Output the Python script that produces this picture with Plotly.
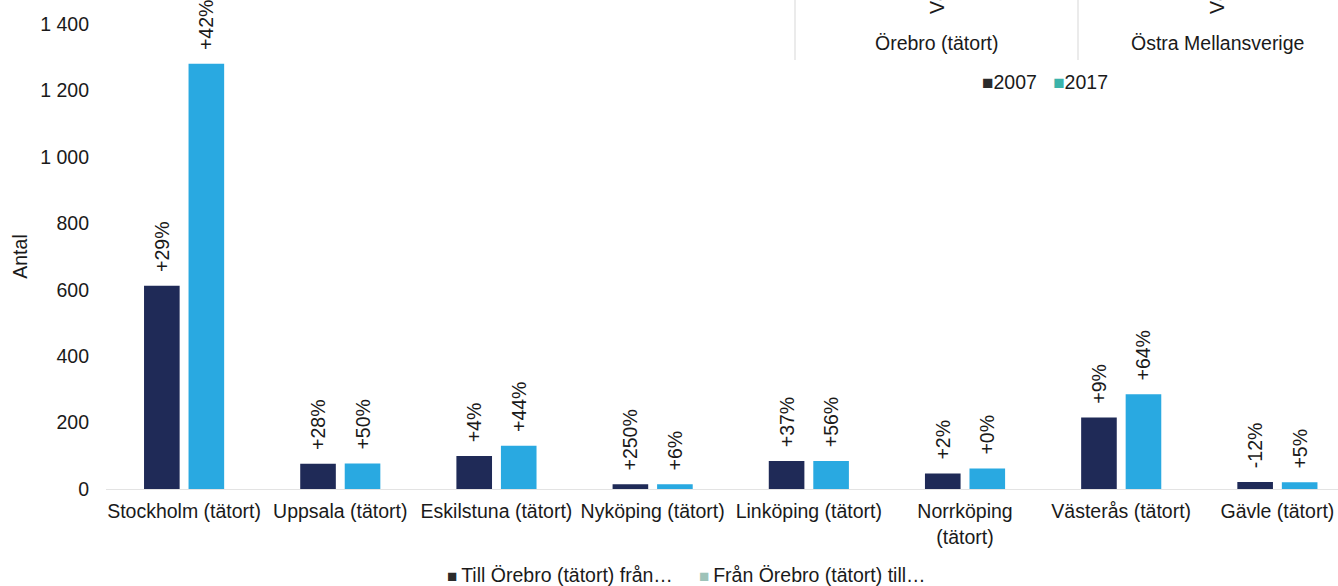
import plotly.graph_objects as go

categories = ["Stockholm (tätort)", "Uppsala (tätort)", "Eskilstuna (tätort)", "Nyköping (tätort)",
              "Linköping (tätort)", "Norrköping (tätort)", "Västerås (tätort)", "Gävle (tätort)"]
tick_labels = ["Stockholm (tätort)", "Uppsala (tätort)", "Eskilstuna (tätort)", "Nyköping (tätort)",
               "Linköping (tätort)", "Norrköping<br>(tätort)", "Västerås (tätort)", "Gävle (tätort)"]
till_values = [612, 76, 99, 14, 84, 47, 215, 21]
fran_values = [1280, 77, 130, 14, 84, 62, 285, 20]
till_pct = ["+29%", "+28%", "+4%", "+250%", "+37%", "+2%", "+9%", "-12%"]
fran_pct = ["+42%", "+50%", "+44%", "+6%", "+56%", "+0%", "+64%", "+5%"]
y_ticks = [0, 200, 400, 600, 800, 1000, 1200, 1400]
series_names = ["Till Örebro (tätort) från…", "Från Örebro (tätort) till…"]

NAVY = "#1F2A57"
BLUE = "#29A9E1"
FONT = "Liberation Sans, Arial, sans-serif"
FS = 19.5
TXT = "#1a1a1a"

fig = go.Figure()
pad = "\u00a0\u00a0"
fig.add_trace(go.Bar(
    x=categories, y=till_values, name=series_names[0],
    marker=dict(color=NAVY, line=dict(width=0)),
    text=[pad + t for t in till_pct], textposition="outside", textangle=-90,
    constraintext="none", cliponaxis=False,
    textfont=dict(family=FONT, size=FS, color=TXT),
))
fig.add_trace(go.Bar(
    x=categories, y=fran_values, name=series_names[1],
    marker=dict(color=BLUE, line=dict(width=0)),
    text=[pad + t for t in fran_pct], textposition="outside", textangle=-90,
    constraintext="none", cliponaxis=False,
    textfont=dict(family=FONT, size=FS, color=TXT),
))

fig.update_layout(
    width=1338, height=586,
    margin=dict(l=106, r=0, t=24, b=97),
    paper_bgcolor="white", plot_bgcolor="white",
    font=dict(family=FONT, size=FS, color=TXT),
    separators=", ",
    barmode="group", bargap=0.43, bargroupgap=0.2,
    showlegend=False,
    xaxis=dict(
        type="category", range=[-0.5, 7.388], automargin=False,
        tickmode="array", tickvals=categories, ticktext=tick_labels,
        showgrid=False, showline=True, linecolor="#E3E3E3", linewidth=1,
        ticks="", tickfont=dict(family=FONT, size=FS, color=TXT),
        ticklabelstandoff=5,
    ),
    yaxis=dict(
        range=[0, 1400], tickmode="array", tickvals=y_ticks, tickformat=",d",
        automargin=False,
        showgrid=False, zeroline=False, showline=False, ticks="",
        tickfont=dict(family=FONT, size=FS, color=TXT), ticklabelstandoff=16,
        title=dict(text="Antal", font=dict(family=FONT, size=FS, color=TXT), standoff=7),
    ),
)

def px_x(p):
    return (p - 106) / 1232.0

def px_y(p):
    return (489 - p) / 465.0

# bottom legend (drawn as text so it sits at the very bottom like the source)
for xl, name, col in ((445, series_names[0], "#2b2b2b"), (697, series_names[1], "#9EC3B9")):
    fig.add_annotation(xref="paper", yref="paper", x=px_x(xl), y=px_y(575),
                       text=f"<span style='color:{col};font-size:17px'>■</span>\u2009{name}",
                       showarrow=False, xanchor="left", yanchor="middle",
                       font=dict(family=FONT, size=FS, color=TXT))

# top-right partial panel (cropped in source)
for xp in (795, 1078):
    fig.add_shape(type="line", xref="paper", yref="paper",
                  x0=px_x(xp), x1=px_x(xp), y0=px_y(60), y1=px_y(-5),
                  line=dict(color="#E4E4E4", width=1.5))

for xc, label in ((937, "Örebro (tätort)"), (1217, "Östra Mellansverige")):
    fig.add_annotation(xref="paper", yref="paper", x=px_x(xc), y=px_y(43),
                       text=label, showarrow=False, xanchor="center", yanchor="middle",
                       font=dict(family=FONT, size=FS, color=TXT))
    fig.add_annotation(xref="paper", yref="paper", x=px_x(xc), y=px_y(16),
                       text="Värde", textangle=-90, showarrow=False,
                       xanchor="center", yanchor="bottom",
                       font=dict(family=FONT, size=FS, color=TXT))

fig.add_annotation(xref="paper", yref="paper", x=px_x(1045), y=px_y(82),
                   text="<span style='color:#2b2b2b;font-size:19px'>■</span>2007\u00a0\u00a0\u00a0"
                        "<span style='color:#3BB3AA;font-size:19px'>■</span>2017",
                   showarrow=False, xanchor="center", yanchor="middle",
                   font=dict(family=FONT, size=FS, color=TXT))

fig.write_html("out.html", config={"displayModeBar": False},
               post_script="document.body.style.margin='0';document.body.style.overflow='hidden';")
